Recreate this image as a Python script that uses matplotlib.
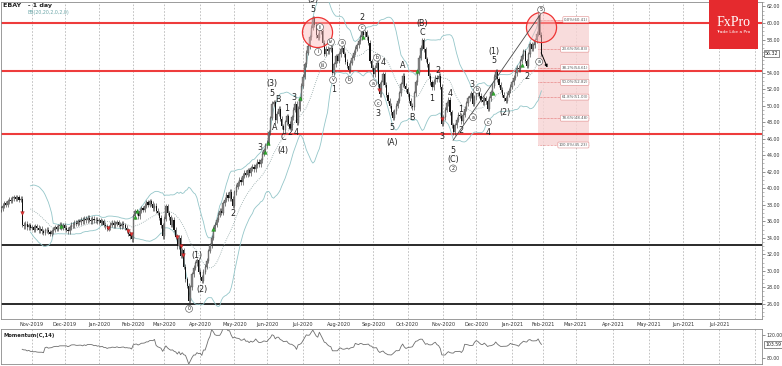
import matplotlib
matplotlib.use('Agg')
import matplotlib.pyplot as plt
import numpy as np
import pandas as pd
from matplotlib.patches import Rectangle
from matplotlib.ticker import MultipleLocator

# daily closes, EBAY, 4 Oct 2019 .. 29 Jan 2021
oct19 = [37.4, 37.6, 37.9, 38.2, 38.0, 38.4, 38.6, 38.5, 38.8, 38.9,
         38.7, 38.9, 38.6, 38.7, 35.6, 35.4, 35.7, 35.3, 35.5, 35.2]
nov19 = [35.3, 35.0, 35.4, 35.2, 34.9, 35.1, 34.8, 34.6, 34.9, 35.0,
         34.7, 34.5, 34.8, 35.0, 35.3, 35.1, 35.4, 35.6, 35.3, 35.5]
dec19 = [35.2, 35.0, 34.8, 35.3, 35.6, 35.5, 35.8, 35.7, 36.0, 35.9,
         36.2, 36.0, 36.3, 36.1, 36.4, 36.2, 36.0, 36.3, 36.1, 36.2, 36.0]
jan20 = [36.1, 35.8, 36.0, 35.6, 35.4, 35.1, 35.3, 35.6, 35.8, 35.5,
         35.7, 35.9, 35.6, 35.4, 35.7, 35.5, 35.2, 34.9, 34.5, 34.2, 33.8]
feb20 = [36.6, 37.2, 37.0, 36.6, 37.3, 37.6, 37.4, 37.9, 38.3, 38.0,
         38.4, 38.1, 37.6, 37.9, 37.3, 37.0, 36.4, 35.5, 34.2]
mar20 = [36.3, 37.8, 37.0, 36.5, 35.6, 36.2, 35.0, 34.1, 33.0, 34.0,
         31.8, 32.5, 30.5, 29.0, 28.2, 26.4, 28.0, 29.6, 30.4, 30.9, 31.3, 29.9]
apr20 = [29.2, 28.8, 29.9, 30.5, 31.2, 32.4, 33.1, 34.0, 35.1, 35.6,
         36.2, 36.8, 37.3, 37.0, 38.2, 38.6, 39.2, 38.8, 39.6, 38.7, 37.9]
may20 = [39.5, 40.2, 40.6, 41.0, 40.7, 41.5, 41.9, 41.6, 42.2, 41.8,
         42.4, 42.6, 42.3, 42.8, 43.2, 42.9, 43.4, 44.2, 44.6, 45.2]
jun20 = [45.5, 46.8, 48.5, 50.2, 50.4, 48.2, 49.0, 49.6, 48.4, 47.5,
         47.0, 48.0, 48.7, 47.8, 47.3, 48.6, 49.5, 50.2, 47.9, 49.6, 50.8, 52.4]
jul20 = [53.5, 55.0, 56.4, 57.2, 58.3, 59.4, 60.6, 59.8, 58.5, 58.2,
         59.6, 59.0, 57.6, 56.3, 56.9, 56.6, 56.8, 57.0, 54.0, 55.0, 56.0, 55.4]
aug20 = [56.2, 56.8, 57.0, 56.2, 55.3, 54.8, 54.3, 55.2, 55.8, 56.4,
         56.9, 57.3, 57.8, 58.3, 58.9, 58.6, 58.9, 58.3, 57.6, 55.4, 54.6]
sep20 = [53.8, 54.6, 55.2, 52.6, 51.4, 52.8, 53.8, 52.5, 51.3, 50.6,
         50.0, 49.2, 48.5, 49.3, 50.0, 50.6, 51.5, 52.6, 53.6, 52.4, 52.0]
oct20 = [51.4, 50.6, 50.0, 49.8, 51.5, 52.8, 54.0, 55.8, 57.0, 57.9,
         56.8, 55.6, 55.0, 53.6, 52.8, 52.2, 52.9, 53.4, 53.2, 53.6, 52.3, 47.8]
nov20 = [48.6, 49.5, 50.3, 50.7, 49.2, 47.6, 46.8, 47.6, 48.3, 48.9,
         48.8, 48.1, 48.9, 49.6, 50.3, 50.9, 51.2, 51.5, 50.2, 51.0]
dec20 = [51.5, 51.8, 51.2, 50.7, 50.4, 50.9, 50.5, 49.6, 50.9, 51.6,
         52.4, 53.5, 54.1, 53.2, 52.5, 51.9, 51.3, 50.9, 50.6, 51.3, 51.8, 52.3]
jan21 = [52.8, 53.4, 53.9, 54.6, 54.37, 55.4, 56.0, 56.6, 55.4, 54.8,
         56.2, 57.4, 56.9, 57.3, 57.9, 58.7, 60.9, 58.6, 56.32]

holidays = ['2019-11-28', '2019-12-25', '2020-01-01', '2020-01-20', '2020-02-17',
            '2020-04-10', '2020-05-25', '2020-07-03', '2020-09-07', '2020-11-26',
            '2020-12-25', '2021-01-01', '2021-01-18']

red_levels = [60.05, 54.2, 46.55]
black_levels = [33.15, 26.0]

fib_pct = [0.0, 23.6, 38.2, 50.0, 61.8, 78.6, 100.0]
fib_vals = [60.41, 56.83, 54.61, 52.82, 51.03, 48.48, 45.23]

# wave labels: (bar, price, text, circled)
waves = [
    (120.9, 31.9, '(1)', False), (123.9, 27.7, '(2)', False), (116.2, 25.4, '0', True),
    (142.9, 37.0, '2', False), (159.7, 44.9, '3', False),
    (167.0, 52.7, '(3)', False), (167.0, 51.5, '5', False), (170.7, 50.7, 'B', False),
    (168.8, 47.3, 'A', False), (173.7, 46.1, 'C', False), (173.7, 44.6, '(4)', False),
    (176.2, 49.7, '1', False), (178.0, 46.7, '2', False), (180.5, 51.0, '3', False),
    (181.7, 46.7, '4', False), (192.1, 61.6, '5', False), (192.1, 62.8, '(5)', False),
    (195.2, 56.5, 'i', True), (196.4, 59.5, 'ii', True), (198.2, 54.9, 'iii', True),
    (203.1, 57.7, 'iv', True), (204.4, 53.1, 'v', True), (205.0, 51.9, '1', False),
    (209.9, 57.6, 'a', True), (214.2, 53.1, 'b', True), (222.1, 59.4, 'c', True),
    (222.1, 60.7, '2', False), (231.3, 55.8, 'b', True), (235.0, 55.2, '4', False),
    (228.9, 52.7, 'a', True), (232.0, 50.3, 'c', True), (232.0, 49.1, '3', False),
    (240.5, 47.4, '5', False), (240.5, 45.5, '(A)', False), (247.2, 54.9, 'A', False),
    (252.8, 48.6, 'B', False), (258.9, 58.9, 'C', False), (258.9, 59.9, '(B)', False),
    (265.0, 50.9, '1', False), (268.7, 54.3, '2', False), (271.1, 46.2, '3', False),
    (276.0, 51.5, '4', False), (277.9, 44.6, '5', False), (277.9, 43.5, '(C)', False),
    (277.9, 42.4, '2', True), (282.8, 49.5, '1', False), (282.8, 47.0, '2', False),
    (289.5, 52.5, '3', False), (292.6, 51.9, 'b', True), (290.1, 48.6, 'a', True),
    (299.3, 48.0, 'c', True), (299.3, 46.8, '4', False), (303.0, 55.5, '5', False),
    (303.0, 56.5, '(1)', False), (309.7, 49.2, '(2)', False), (323.2, 53.5, '2', False),
    (331.8, 61.6, '5', True), (330.6, 55.3, 'a', True),
]

buy_signals = [(37.8, 35.4), (83.1, 36.5), (84.3, 37.2), (130.9, 35.1), (162.7, 44.4),
               (164.6, 45.5), (184.2, 50.9), (222.7, 58.3), (255.8, 54.2),
               (302.4, 51.5), (320.1, 54.9)]
sell_signals = [(13.9, 37.0), (66.5, 35.2), (78.8, 34.8), (80.6, 34.5), (108.8, 34.1),
                (111.3, 33.0), (112.5, 31.9), (232.5, 51.9), (271.1, 48.4)]

highlights = [(194.6, 58.9), (331.8, 59.5)]

closes = np.array(oct19 + nov19 + dec19 + jan20 + feb20 + mar20 + apr20 + may20 +
                  jun20 + jul20 + aug20 + sep20 + oct20 + nov20 + dec20 + jan21)
n = len(closes)

hist = pd.bdate_range('2019-10-04', '2021-01-29', freq='C', holidays=holidays)
future = pd.bdate_range('2021-02-01', '2021-08-31')
dates = hist.append(future)

opens = np.r_[closes[0], closes[:-1]]
wick = 0.3
highs = np.maximum(opens, closes) + wick
lows = np.minimum(opens, closes) - wick
x = np.arange(n)

s = pd.Series(closes)
mid = s.rolling(20).mean()
sd = s.rolling(20).std(ddof=0)
upper = mid + 2 * sd
lower = mid - 2 * sd
momentum = s / s.shift(14) * 100

W, H = 782, 366
fig = plt.figure(figsize=(W / 100, H / 100), dpi=100)
ax = fig.add_axes([1 / W, 1 - 319 / H, 761 / W, 317 / H])
axm = fig.add_axes([1 / W, 2 / H, 761 / W, 35 / H])

xlim = (1.0, 467.1)
ax.set_xlim(*xlim)
axm.set_xlim(*xlim)
ax.set_ylim(24.17, 62.54)
axm.set_ylim(70, 130)

# month grid
idx = pd.Series(np.arange(len(dates)), index=dates)
firsts = idx.groupby([dates.year, dates.month]).first().values[1:]
labels = [dates[i].strftime('%b-%Y') for i in firsts]
labels = [lb if i < 455 else '' for i, lb in zip(firsts, labels)]
for a in (ax, axm):
    a.set_xticks(firsts)
    a.grid(axis='x', color='#b8b8b8', lw=0.6, ls=(0, (2, 2)))
    a.set_axisbelow(True)
    for sp in a.spines.values():
        sp.set_color('#8a8a8a')
        sp.set_linewidth(0.6)
ax.set_xticklabels(labels, fontsize=3.6, color='#333333')
ax.tick_params(axis='x', length=0, pad=2)
axm.tick_params(axis='x', length=0, labelbottom=False)

# price axis (56.00 sits under the last-price box)
price_ticks = np.arange(26, 63, 2)
ax.yaxis.tick_right()
ax.set_yticks(price_ticks)
ax.set_yticklabels(['' if v == 56 else f'{v:.2f}' for v in price_ticks])
ax.yaxis.set_minor_locator(MultipleLocator(0.5))
ax.tick_params(axis='y', which='major', length=2.5, width=0.5, pad=1,
               labelsize=3.4, labelcolor='#333333', color='#666666')
ax.tick_params(axis='y', which='minor', length=1.2, width=0.4, color='#888888')

axm.yaxis.tick_right()
axm.set_yticks([80, 120])
axm.set_yticklabels(['80.00', '120.00'])
axm.tick_params(axis='y', length=2.5, width=0.5, pad=1, labelsize=3.3,
                labelcolor='#333333', color='#666666')

# support / resistance
for lv in red_levels:
    ax.axhline(lv, color='#ee3c3c', lw=1.5, zorder=2)
for lv in black_levels:
    ax.axhline(lv, color='#2a2a2a', lw=1.4, zorder=2)

# fibonacci box
f_left, f_right = 330, 361
ax.add_patch(Rectangle((f_left, fib_vals[-1]), f_right - f_left, fib_vals[0] - fib_vals[-1],
                       facecolor='#f7d4d4', edgecolor='none', alpha=0.8, zorder=1))
for pct, val in zip(fib_pct, fib_vals):
    ax.plot([f_left, f_right], [val, val], color='#e06060', lw=0.5, ls=(0, (1, 1)), zorder=3)
    ax.text(f_right - 0.5, val, f'{pct:.1f}%({val:.2f})', fontsize=2.8, color='#555555',
            ha='right', va='center', zorder=6,
            bbox=dict(boxstyle='round,pad=0.25', fc='white', ec='#e08a8a', lw=0.4))

# bollinger
ax.plot(x, upper, color='#94c6c9', lw=0.6, zorder=3)
ax.plot(x, lower, color='#94c6c9', lw=0.6, zorder=3)
ax.plot(x, mid, color='#8fa5a5', lw=0.6, ls=(0, (1, 1.5)), zorder=3)

# candles
up = closes >= opens
ax.vlines(x, lows, highs, color='#3a3a3a', lw=0.45, zorder=4)
body = np.maximum(np.abs(closes - opens), 0.06)
ax.bar(x[up], body[up], bottom=np.minimum(opens, closes)[up], width=0.7,
       color='#8a8a8a', edgecolor='#333333', lw=0.2, zorder=4)
ax.bar(x[~up], body[~up], bottom=np.minimum(opens, closes)[~up], width=0.7,
       color='#111111', lw=0, zorder=4)

# signals
bx, by = zip(*buy_signals)
ax.plot(bx, by, ls='none', marker='^', ms=2.6, color='#2eaa2e', mec='#1d801d', mew=0.3, zorder=5)
sx, sy = zip(*sell_signals)
ax.plot(sx, sy, ls='none', marker='v', ms=2.6, color='#e03030', mec='#a01818', mew=0.3, zorder=5)

# highlight circles
hx, hy = zip(*highlights)
ax.scatter(hx, hy, s=470, facecolor=(1, 0.72, 0.72, 0.45), edgecolor='#ee3333', lw=0.9, zorder=5)

# trend line and projection arrow
ax.plot([277.9, 331.2], [45.8, 61.0], color='#4a4a4a', lw=0.6, zorder=5)
ax.annotate('', xy=(336.3, 54.3), xytext=(331.2, 56.7),
            arrowprops=dict(arrowstyle='-|>', color='black', lw=0.7, mutation_scale=4), zorder=6)

# wave labels
for bxx, pyy, txt, circ in waves:
    if circ:
        ax.text(bxx, pyy, txt, fontsize=3.4, ha='center', va='center', color='#222222',
                zorder=7, bbox=dict(boxstyle='circle,pad=0.2', fc='white', ec='#444444', lw=0.4))
    else:
        ax.text(bxx, pyy, txt, fontsize=5.8, ha='center', va='center', color='#222222', zorder=7)

# last price box
ax.text(1.004, closes[-1], f'{closes[-1]:.2f}', transform=ax.get_yaxis_transform(),
        fontsize=3.4, ha='left', va='center', color='#222222', zorder=8, clip_on=False,
        bbox=dict(boxstyle='square,pad=0.2', fc='white', ec='#333333', lw=0.4))

# momentum
axm.plot(x, momentum, color='#6e6e6e', lw=0.6)
axm.text(1.004, momentum.iloc[-1], f'{momentum.iloc[-1]:.2f}', transform=axm.get_yaxis_transform(),
         fontsize=3.3, ha='left', va='center', color='#222222', clip_on=False,
         bbox=dict(boxstyle='square,pad=0.2', fc='white', ec='#333333', lw=0.4))
axm.text(3 / 761, 0.8, 'Momentum(C,14)', transform=axm.transAxes, fontsize=3.8,
         fontweight='bold', color='#222222', va='center')

# header
fig.text(3 / W, 1 - 5 / H, 'EBAY   - 1 day', fontsize=4.6, fontweight='bold',
         color='#222222', va='center')
fig.text(28 / W, 1 - 12.5 / H, 'BB(20,20,2,0,2,0)', fontsize=3.4, color='#6aa6a8', va='center')

# logo
fig.patches.append(Rectangle((709 / W, 1 - 49 / H), 49 / W, 49 / H, transform=fig.transFigure,
                             facecolor='#e52a2e', edgecolor='none', zorder=10))
fig.text(733.5 / W, 1 - 22 / H, 'FxPro', fontsize=10, family='Liberation Serif',
         color='white', ha='center', va='center', zorder=11)
fig.text(733.5 / W, 1 - 32 / H, 'Trade Like a Pro', fontsize=3.2, color='white',
         ha='center', va='center', zorder=11)

fig.savefig('out.png', dpi=100)
